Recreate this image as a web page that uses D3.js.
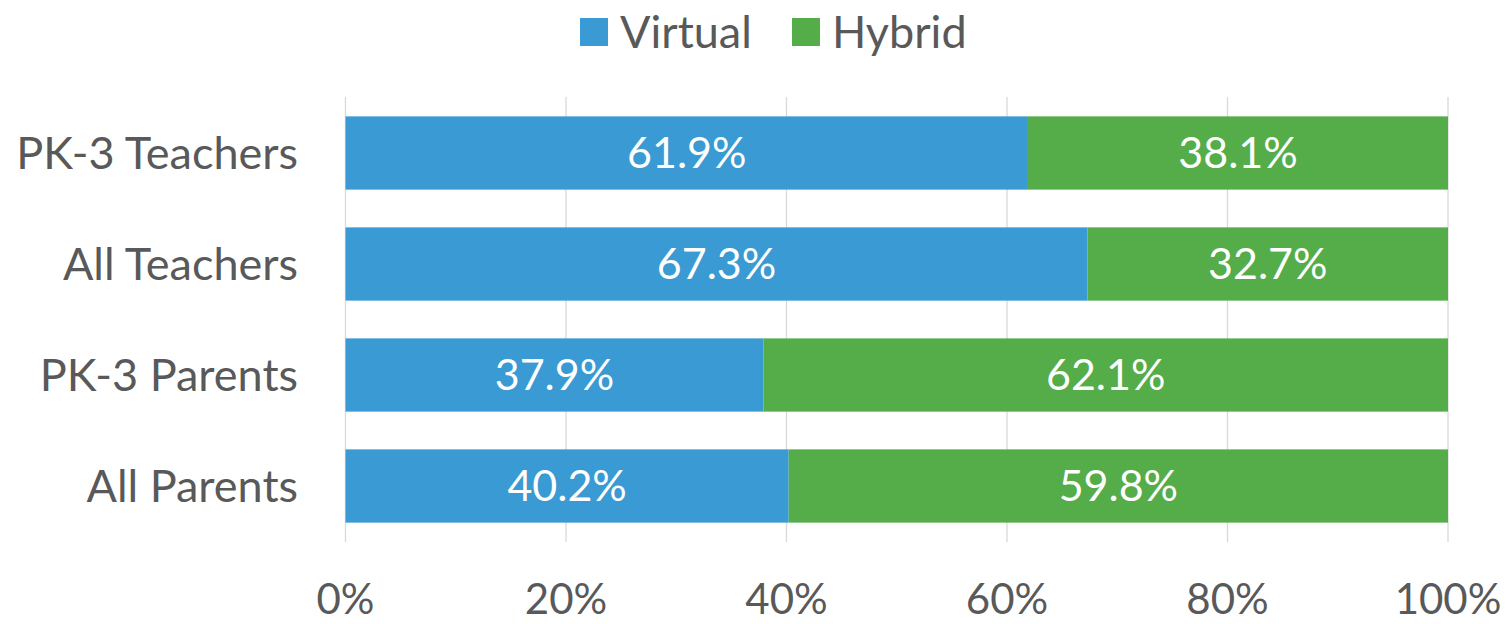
<!DOCTYPE html>
<html lang="en">
<head>
    <meta charset="UTF-8">
    <title>Virtual vs Hybrid</title>
    <script src="https://d3js.org/d3.v7.min.js"></script>
    <style>
        body { margin: 0; background: #fff; }
        svg text { font-family: "Lato", "Open Sans", sans-serif; }
    </style>
</head>
<body>
    <div id="chart"></div>
    <script>
        const groups = ['PK-3 Teachers', 'All Teachers', 'PK-3 Parents', 'All Parents'];
        const seriesNames = ['Virtual', 'Hybrid'];
        const virtual = [61.9, 67.3, 37.9, 40.2];
        const hybrid = [38.1, 32.7, 62.1, 59.8];
        const ticks = [0, 20, 40, 60, 80, 100];
        const colors = ['#3a9ad3', '#54ad49'];

        const width = 1507;
        const height = 624;

        const svg = d3.select('#chart').append('svg')
            .attr('width', width)
            .attr('height', height);

        const x = d3.scaleLinear().domain([0, 100]).range([345.5, 1448]);
        const y = d3.scaleBand().domain(groups).range([97.5, 541.5])
            .paddingInner(0.34).paddingOuter(0.17);

        // gridlines
        svg.append('g').selectAll('line')
            .data(ticks)
            .join('line')
            .attr('x1', d => x(d)).attr('x2', d => x(d))
            .attr('y1', 97).attr('y2', 542)
            .attr('stroke', '#d9d9d9')
            .attr('stroke-width', 1.3);

        const rows = groups.map((g, i) => ({ group: g, values: [virtual[i], hybrid[i]] }));

        // stacked segments
        rows.forEach(r => {
            let start = 0;
            r.values.forEach((v, k) => {
                svg.append('rect')
                    .attr('x', x(start))
                    .attr('y', y(r.group))
                    .attr('width', x(start + v) - x(start))
                    .attr('height', y.bandwidth())
                    .attr('fill', colors[k]);
                svg.append('text')
                    .attr('x', x(start + v / 2))
                    .attr('y', y(r.group) + y.bandwidth() / 2)
                    .attr('dy', '0.36em')
                    .attr('text-anchor', 'middle')
                    .attr('fill', '#fff')
                    .attr('font-size', 43)
                    .text(v.toFixed(1) + '%');
                start += v;
            });
        });

        // category labels
        svg.append('g').selectAll('text')
            .data(groups)
            .join('text')
            .attr('x', 298)
            .attr('y', d => y(d) + y.bandwidth() / 2)
            .attr('dy', '0.36em')
            .attr('text-anchor', 'end')
            .attr('fill', '#595959')
            .attr('font-size', 45)
            .text(d => d);

        // x tick labels (kept just inside the bottom edge)
        svg.append('g').selectAll('text')
            .data(ticks)
            .join('text')
            .attr('x', d => x(d))
            .attr('y', 614)
            .attr('text-anchor', 'middle')
            .attr('fill', '#595959')
            .attr('font-size', 42)
            .text(d => d + '%');

        // legend
        const legendX = [580, 792];
        const legend = svg.append('g').selectAll('g')
            .data(seriesNames)
            .join('g')
            .attr('transform', (d, i) => `translate(${legendX[i]},18)`);
        legend.append('rect')
            .attr('width', 28).attr('height', 28)
            .attr('fill', (d, i) => colors[i]);
        legend.append('text')
            .attr('x', 40).attr('y', 14)
            .attr('dy', '0.36em')
            .attr('fill', '#595959')
            .attr('font-size', 45)
            .text(d => d);
    </script>
</body>
</html>
